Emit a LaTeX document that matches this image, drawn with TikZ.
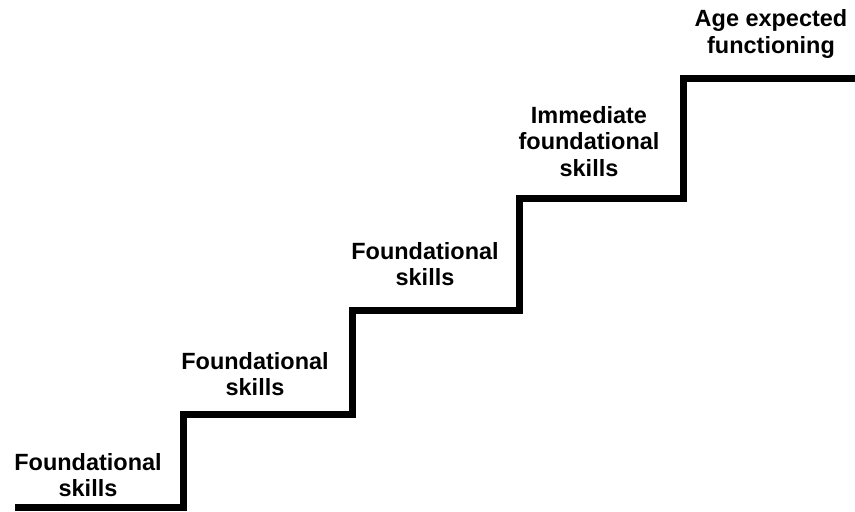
\documentclass[tikz,border=0pt]{standalone}
\usepackage{fontspec}
\setmainfont{Liberation Sans}
\usetikzlibrary{positioning}
\tikzset{stair/.style={line width=5.25pt, line join=miter}}
\tikzset{lbl/.style={align=center, inner sep=0pt, font=\bfseries\fontsize{17.6}{19.6}\selectfont}}

\begin{document}
\begin{tikzpicture}[x=0.75pt,y=-0.75pt]
\useasboundingbox (0,0) rectangle (855,511);

\coordinate (c0) at (15,507);
\coordinate (c1) at (183.7,414);
\coordinate (c2) at (352,310.5);
\coordinate (c3) at (519.5,198);
\coordinate (c4) at (683.7,78);
\coordinate (c5) at (858,78);

\draw[stair] (c0) -| (c1) -| (c2) -| (c3) -| (c4) -- (c5);

\node[lbl] (f1) at (88,475) {Foundational\\skills};
\node[lbl] (f2) at (255,374.5) {Foundational\\skills};
\node[lbl] (f3) at (425,264.5) {Foundational\\skills};
\node[lbl] (imm) at (589,141.5) {Immediate\\foundational\\skills};
\node[lbl] (age) at (771,34) {Age expected\\functioning};
\end{tikzpicture}
\end{document}
